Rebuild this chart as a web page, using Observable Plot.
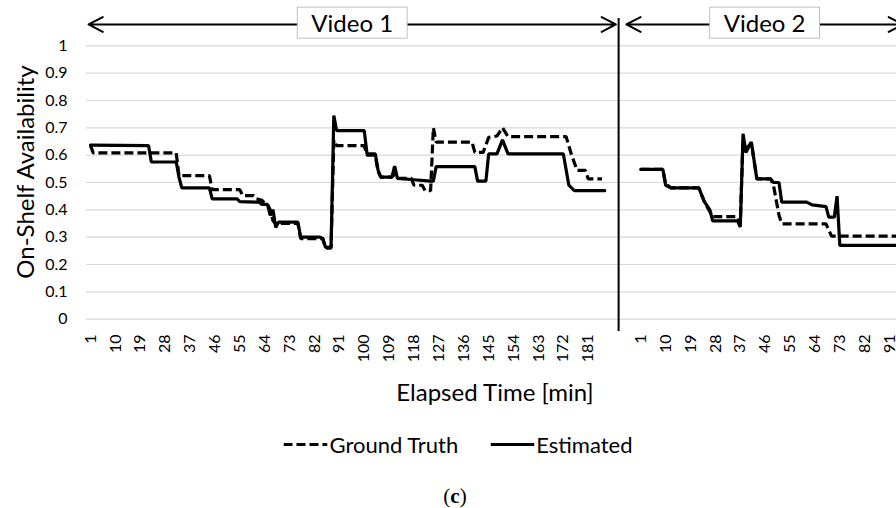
<!DOCTYPE html>
<html><head><meta charset="utf-8">
<script src="https://cdn.jsdelivr.net/npm/d3@7"></script>
<script src="https://cdn.jsdelivr.net/npm/@observablehq/plot@0.6"></script>
<style>
body{margin:0;background:#fff;font-family:Lato,"Open Sans",sans-serif;}
#wrap{position:relative;width:896px;height:508px;overflow:hidden;background:#fff;}
#chart{position:absolute;left:0;top:0;}
.abs{position:absolute;white-space:nowrap;color:#000;}
#ytitle{left:24px;top:172px;font-size:24px;transform:translate(-50%,-50%) rotate(-90deg);}
#xtitle{left:495px;top:391px;font-size:24px;transform:translate(-50%,-50%);}
#legend{left:458px;top:444px;font-size:22px;transform:translate(-50%,-50%);display:flex;align-items:center;}
#legend .item{display:flex;align-items:center;}
#legend svg{margin-right:2px;}
#caption{left:455px;top:496px;font-size:21px;font-family:"Liberation Serif",serif;transform:translate(-50%,-50%);}
</style></head><body>
<div id="wrap">
  <div id="chart"></div>
  <div class="abs" id="ytitle">On-Shelf Availability</div>
  <div class="abs" id="xtitle">Elapsed Time [min]</div>
  <div class="abs" id="legend"></div>
  <div class="abs" id="caption">(<b>c</b>)</div>
</div>
<script>
// ---- data: [minute, availability] breakpoints ----
const video1GroundTruth = [
  [1,0.635],[2,0.608],[32,0.608],[33,0.525],[44,0.525],[45,0.474],[55,0.474],[56,0.452],
  [60,0.452],[61,0.44],[63,0.435],[64,0.425],[65,0.42],[66,0.40],[67,0.36],[68,0.35],
  [76,0.35],[77,0.295],[85,0.295],[86,0.26],[88,0.26],[89,0.655],[90,0.635],[100,0.635],
  [101,0.60],[104,0.60],[105,0.54],[106,0.52],[110,0.52],[111,0.53],[112,0.515],[117,0.515],
  [118,0.49],[121,0.49],[122,0.47],[124,0.47],[125,0.70],[126,0.648],[139,0.648],[140,0.61],
  [143,0.61],[145,0.665],[148,0.67],[150,0.70],[152,0.668],[173,0.668],[175,0.60],[177,0.544],
  [180,0.544],[181,0.513],[186,0.513]
];
const video1Estimated = [
  [1,0.637],[22,0.635],[23,0.575],[32,0.575],[33,0.52],[34,0.48],[44,0.48],[45,0.44],
  [54,0.44],[55,0.43],[62,0.428],[63,0.42],[65,0.42],[66,0.38],[67,0.40],[68,0.335],
  [69,0.355],[76,0.355],[77,0.30],[84,0.30],[85,0.295],[86,0.263],[88,0.263],[89,0.745],
  [90,0.69],[100,0.69],[101,0.605],[104,0.605],[105,0.545],[106,0.52],[110,0.52],[111,0.56],
  [112,0.515],[118,0.51],[124,0.505],[125,0.505],[126,0.558],[140,0.558],[141,0.505],
  [144,0.505],[145,0.605],[148,0.605],[150,0.656],[152,0.605],[172,0.605],[174,0.49],
  [176,0.47],[187,0.47]
];
const video2GroundTruth = [
  [1,0.548],[9,0.548],[10,0.495],[12,0.48],[22,0.48],[24,0.43],[27,0.375],[36,0.375],
  [37,0.35],[38,0.66],[39,0.62],[41,0.645],[43,0.513],[48,0.513],[49,0.49],[51,0.38],
  [52,0.349],[68,0.349],[70,0.304],[95,0.304]
];
const video2Estimated = [
  [1,0.548],[9,0.548],[10,0.49],[12,0.48],[22,0.48],[24,0.43],[26,0.40],[27,0.36],
  [36,0.36],[37,0.337],[38,0.678],[39,0.61],[41,0.648],[43,0.513],[48,0.513],[49,0.50],
  [51,0.50],[52,0.428],[61,0.428],[63,0.418],[68,0.412],[69,0.373],[71,0.373],[72,0.45],
  [73,0.27],[95,0.27]
];
const video1Ticks = [1,10,19,28,37,46,55,64,73,82,91,100,109,118,127,136,145,154,163,172,181];
const video2Ticks = [1,10,19,28,37,46,55,64,73,82,91];
const yTicks = [0,0.1,0.2,0.3,0.4,0.5,0.6,0.7,0.8,0.9,1];
const yTickLabels = ["0","0.1","0.2","0.3","0.4","0.5","0.6","0.7","0.8","0.9","1"];
const seriesNames = ["Ground Truth","Estimated"];
const videoNames = ["Video 1","Video 2"];
// category layout of the shared x axis (video 2 follows video 1 after a gap)
const VIDEO2_OFFSET = 199;
const separatorAt = 192;
const videoSpans = [
  {label: videoNames[0], start: 0.3, end: 191},
  {label: videoNames[1], start: 194.8, end: 294.8}
];

const ARROW_Y = 1.078;
const v2 = arr => arr.map(([m, v]) => [m + VIDEO2_OFFSET, v]);
const arrows = videoSpans.flatMap(s => {
  const c = (s.start + s.end) / 2;
  return [{x1: c, x2: s.start}, {x1: c, x2: s.end}];
});
const xTicks = video1Ticks.concat(video2Ticks.map(m => m + VIDEO2_OFFSET));

const lineBase = {x: d => d[0], y: d => d[1], stroke: "black", strokeWidth: 3.2, clip: true, strokeLinejoin: "miter"};
const dashed = {...lineBase, strokeDasharray: "9,4", strokeLinecap: "butt"};

const chart = Plot.plot({
  width: 896, height: 370,
  marginLeft: 86, marginRight: 0, marginTop: 18, marginBottom: 39,
  style: {fontFamily: "Lato, 'Open Sans', sans-serif", fontSize: "16px", color: "black", background: "transparent"},
  x: {type: "linear", domain: [-0.447, 292.5], ticks: xTicks,
      tickFormat: d => String(d > VIDEO2_OFFSET ? d - VIDEO2_OFFSET : d),
      tickRotate: -90, tickSize: 0, tickPadding: 3, label: null},
  y: {domain: [0, 1], range: [318.7, 45.3], ticks: yTicks,
      tickFormat: d => yTickLabels[yTicks.indexOf(d)], tickSize: 0, tickPadding: 19, label: null},
  marks: [
    Plot.ruleY(yTicks, {stroke: "#d9d9d9", strokeWidth: 1.2}),
    Plot.line(video1GroundTruth, dashed),
    Plot.line(video1Estimated, lineBase),
    Plot.line(v2(video2GroundTruth), dashed),
    Plot.line(v2(video2Estimated), lineBase),
    Plot.ruleX([separatorAt], {x: d => d, y1: () => -0.045, y2: () => 1.10, stroke: "black", strokeWidth: 2}),
    Plot.arrow(arrows, {x1: "x1", x2: "x2", y1: () => ARROW_Y, y2: () => ARROW_Y,
      stroke: "black", strokeWidth: 2, headLength: 12, headAngle: 55, bend: 0}),
    Plot.text(videoSpans, {x: d => (d.start + d.end) / 2, y: () => ARROW_Y, text: "label",
      fontSize: 24, fill: "black"})
  ]
});
document.getElementById("chart").append(chart);

// white boxes behind the video labels
d3.select(chart).selectAll("text").filter(function() { return videoNames.includes(this.textContent); })
  .each(function() {
    const b = this.getBBox();
    const r = document.createElementNS("http://www.w3.org/2000/svg", "rect");
    r.setAttribute("x", b.x - 14); r.setAttribute("y", b.y - 1);
    r.setAttribute("width", b.width + 28); r.setAttribute("height", b.height + 2);
    r.setAttribute("fill", "white"); r.setAttribute("stroke", "#bfbfbf"); r.setAttribute("stroke-width", "1");
    const t = this.getAttribute("transform"); if (t) r.setAttribute("transform", t);
    this.parentNode.insertBefore(r, this);
  });

// legend
const legend = d3.select("#legend");
seriesNames.forEach((name, i) => {
  const item = legend.append("div").attr("class", "item").style("margin-left", i ? "32px" : "0px");
  const s = item.append("svg").attr("width", 44).attr("height", 10);
  s.append("line").attr("x1", 0).attr("x2", 44).attr("y1", 5).attr("y2", 5)
    .attr("stroke", "black").attr("stroke-width", 3.2)
    .attr("stroke-dasharray", i === 0 ? "9,4" : null);
  item.append("span").text(name);
});
</script>
</body></html>
